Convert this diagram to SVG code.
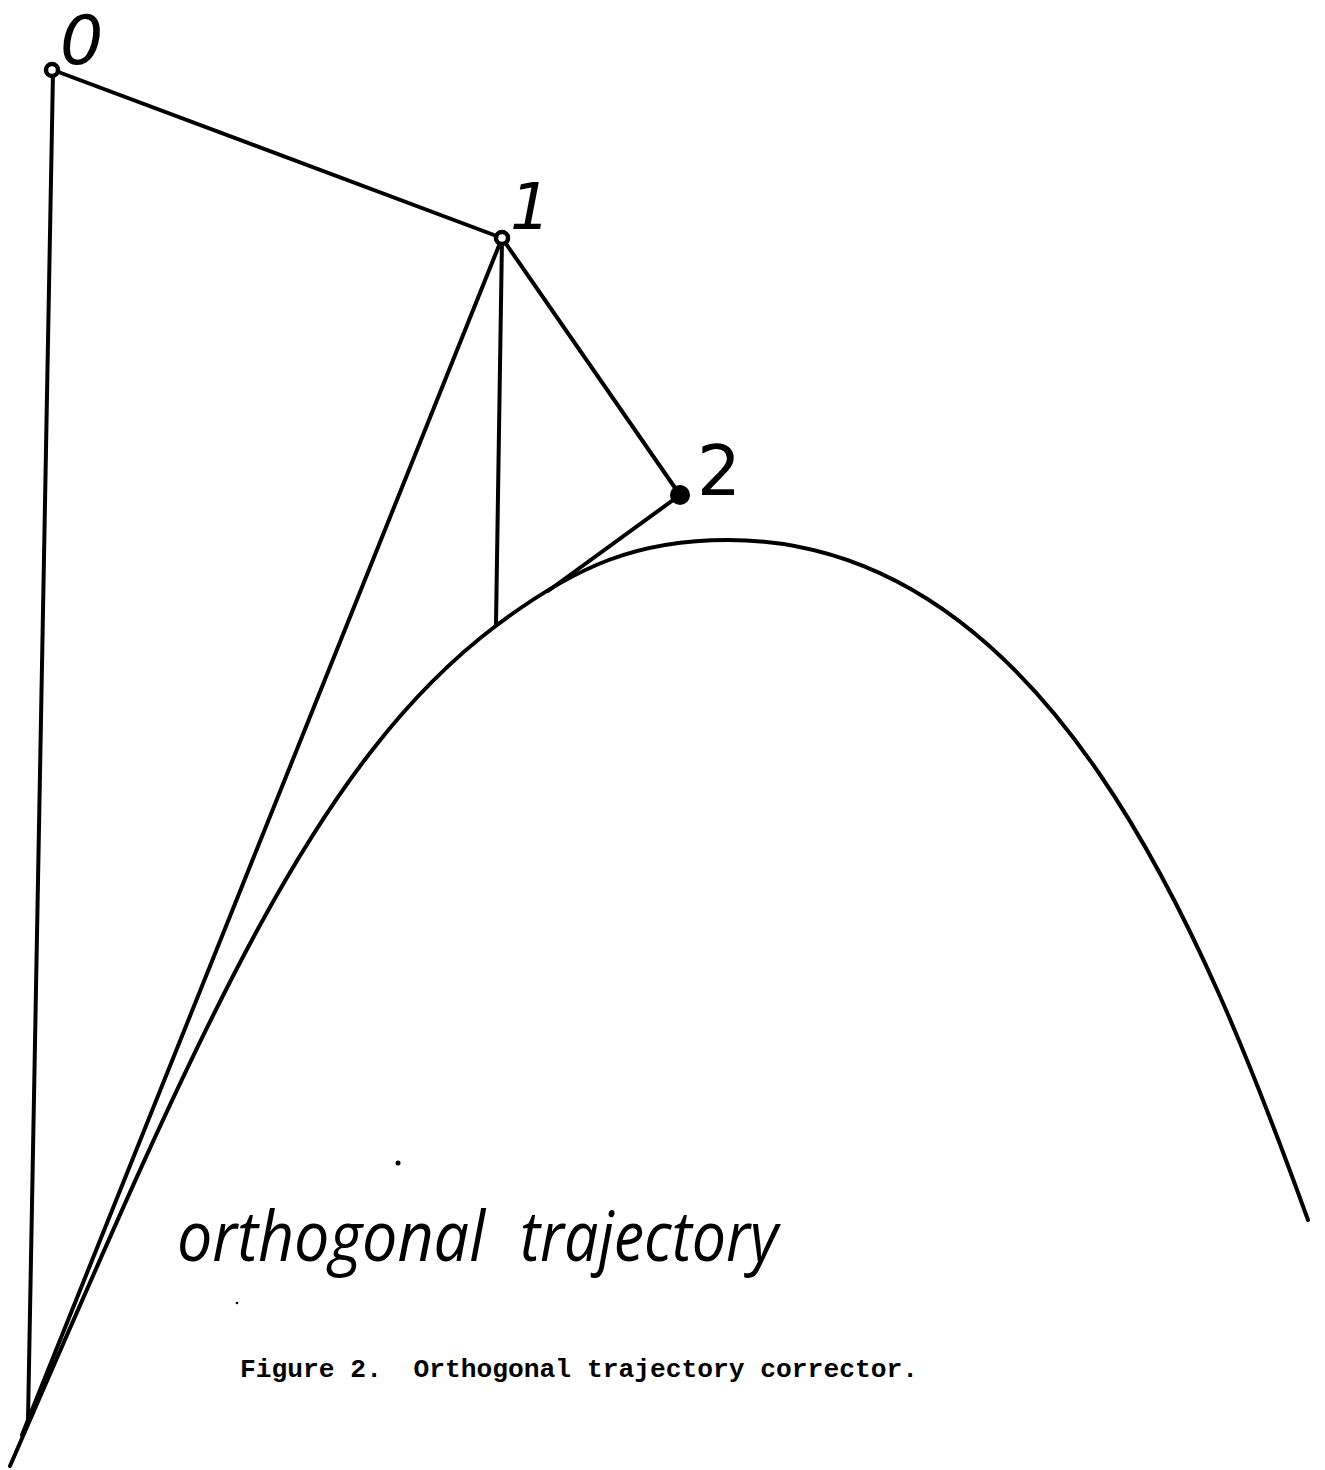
<svg xmlns="http://www.w3.org/2000/svg" width="1325" height="1470" viewBox="0 0 1325 1470">
<style>
.ln{fill:none;stroke:#000;stroke-width:4;stroke-linecap:round;stroke-linejoin:round}
.ring{fill:#fff;stroke:#000;stroke-width:4.5}
.lbl{font-family:"DejaVu Sans",sans-serif;fill:#000}
.hand{font-family:"Open Sans","DejaVu Sans",sans-serif;font-style:italic;fill:#000}
.cap{font-family:"Liberation Mono","Courier New",monospace;font-weight:bold;fill:#000}
</style>
<rect width="1325" height="1470" fill="#fff"/>
<g id="connectors">
<line class="ln" x1="53" y1="72" x2="28" y2="1420"/>
<line class="ln" x1="53" y1="70" x2="502" y2="238"/>
<line class="ln" x1="502" y1="238" x2="22" y2="1435"/>
<line class="ln" x1="502" y1="238" x2="496" y2="624"/>
<line class="ln" x1="502" y1="238" x2="680" y2="495"/>
<line class="ln" x1="680" y1="495" x2="548" y2="591"/>
</g>
<g id="trajectory">
<path class="ln" d="M10,1466 C201,1026 313,763 497,625 C577,565 638,540 728,540 C1048,540 1206,938 1308,1220"/>
</g>
<g id="point0">
<circle class="ring" cx="52" cy="70" r="6"/>
<text class="lbl" x="60" y="64" font-size="68" font-style="italic">0</text>
</g>
<g id="point1">
<circle class="ring" cx="502" cy="238" r="6"/>
<text class="lbl" x="510" y="229" font-size="64" font-style="italic">1</text>
</g>
<g id="point2">
<circle cx="680" cy="495" r="10" fill="#000"/>
<text class="lbl" x="697" y="495" font-size="69">2</text>
</g>
<g id="labels">
<text class="hand" x="177" y="1261" font-size="70" textLength="308" lengthAdjust="spacingAndGlyphs">orthogonal</text>
<text class="hand" x="520" y="1261" font-size="70" textLength="258" lengthAdjust="spacingAndGlyphs">trajectory</text>
<text class="cap" x="240" y="1377" font-size="26" textLength="678" lengthAdjust="spacingAndGlyphs" xml:space="preserve">Figure 2.  Orthogonal trajectory corrector.</text>
<circle cx="398" cy="1163" r="2.5" fill="#000"/>
<circle cx="237" cy="1303" r="1.3" fill="#000"/>
</g>
</svg>
